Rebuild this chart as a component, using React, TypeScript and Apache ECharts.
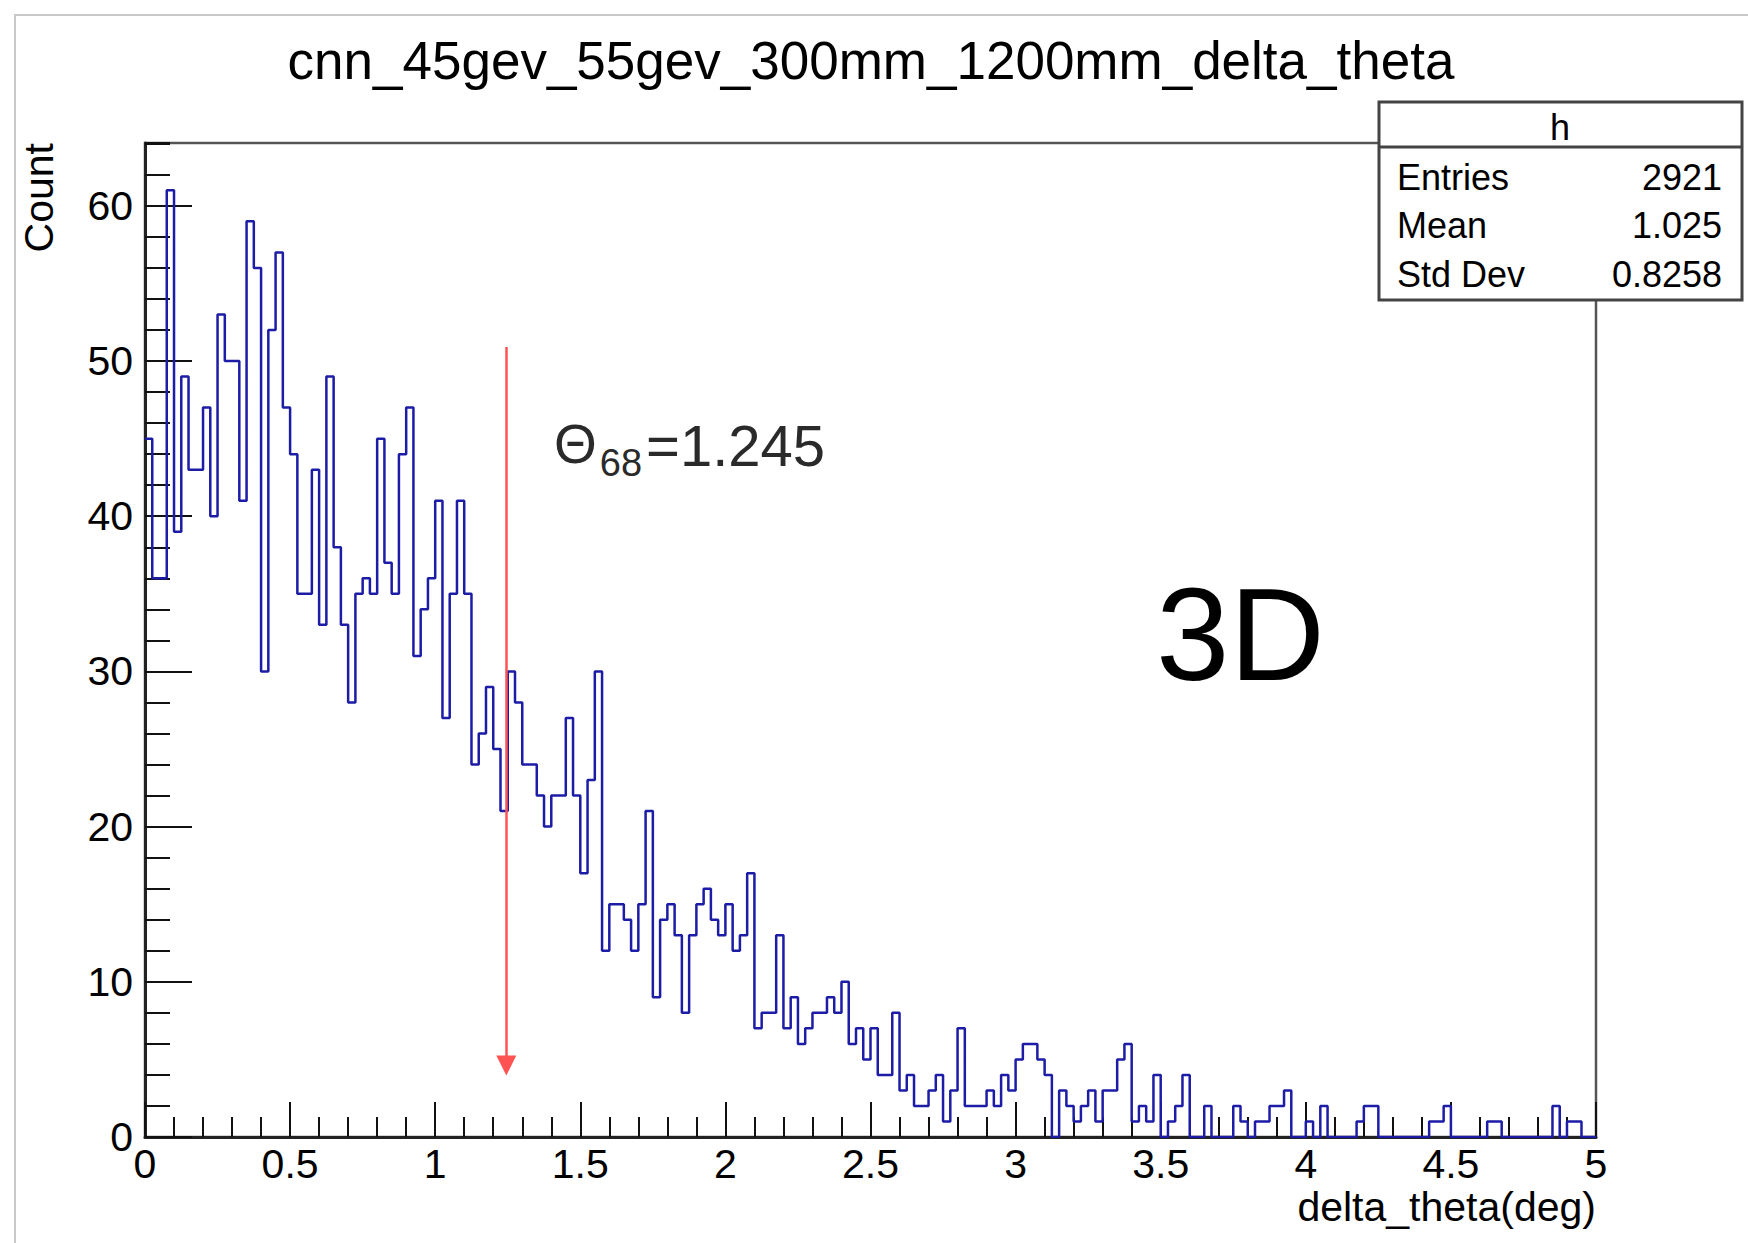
import React, { useEffect, useRef } from "react";
import * as echarts from "echarts";

// Histogram binning: 200 bins of 0.025 deg between 0 and 5 deg
const BIN_LOW = 0;
const BIN_HIGH = 5;
const BIN_WIDTH = 0.025;

// Counts per bin, grouped by 1-degree range
const counts0to1 = [
  45, 36, 36, 61, 39, 49, 43, 43, 47, 40,
  53, 50, 50, 41, 59, 56, 30, 52, 57, 47,
  44, 35, 35, 43, 33, 49, 38, 33, 28, 35,
  36, 35, 45, 37, 35, 44, 47, 31, 34, 36,
];
const counts1to2 = [
  41, 27, 35, 41, 35, 24, 26, 29, 25, 21,
  30, 28, 24, 24, 22, 20, 22, 22, 27, 22,
  17, 23, 30, 12, 15, 15, 14, 12, 15, 21,
  9, 14, 15, 13, 8, 13, 15, 16, 14, 13,
];
const counts2to3 = [
  15, 12, 13, 17, 7, 8, 8, 13, 7, 9,
  6, 7, 8, 8, 9, 8, 10, 6, 7, 5,
  7, 4, 4, 8, 3, 4, 2, 2, 3, 4,
  1, 3, 7, 2, 2, 2, 3, 2, 4, 3,
];
const counts3to4 = [
  5, 6, 6, 5, 4, 0, 3, 2, 1, 2,
  3, 1, 3, 3, 5, 6, 1, 2, 1, 4,
  0, 1, 2, 4, 0, 0, 2, 0, 0, 0,
  2, 1, 0, 1, 1, 2, 2, 3, 0, 0,
];
const counts4to5 = [
  1, 0, 2, 0, 0, 0, 0, 1, 2, 2,
  0, 0, 0, 0, 0, 0, 0, 1, 1, 2,
  0, 0, 0, 0, 0, 1, 1, 0, 0, 0,
  0, 0, 0, 0, 2, 0, 1, 1, 0, 0,
];

// Axis ranges
const X_MAJOR = 0.5;
const Y_MAX = 64.05;
const Y_MAJOR = 10;
const Y_MINOR = 2;

// Statistics box
const STATS_TITLE = "h";
const STATS_LABELS = ["Entries", "Mean", "Std Dev"];
const STATS_VALUES = ["2921", "1.025", "0.8258"];

// 68% containment marker
const THETA68 = 1.245;
const ARROW_FROM = 50.9;
const ARROW_TO = 4.6;

const TITLE = "cnn_45gev_55gev_300mm_1200mm_delta_theta";
const X_NAME = "delta_theta(deg)";
const Y_NAME = "Count";
const TAG = "3D";

const FONT = "'Liberation Sans', Arial, Helvetica, sans-serif";
const HIST_COLOR = "#1c1ca6";

export default function App() {
  const ref = useRef<HTMLDivElement>(null);

  useEffect(() => {
    if (!ref.current) return;
    const chart = echarts.init(ref.current, null, { renderer: "svg" });

    const counts = [
      ...counts0to1,
      ...counts1to2,
      ...counts2to3,
      ...counts3to4,
      ...counts4to5,
    ];
    // step outline: each point is a bin's lower edge, last point closes the final bin
    const stepData: number[][] = counts.map((c, i) => [BIN_LOW + i * BIN_WIDTH, c]);
    stepData.push([BIN_HIGH, counts[counts.length - 1]]);

    const statRows = STATS_LABELS.map((label, i) => ({
      type: "group",
      children: [
        {
          type: "text",
          style: {
            text: label,
            x: 1397,
            y: 177 + i * 48.5,
            align: "left",
            verticalAlign: "middle",
            fontSize: 36,
            fontFamily: FONT,
            fill: "#000",
          },
        },
        {
          type: "text",
          style: {
            text: STATS_VALUES[i],
            x: 1722,
            y: 177 + i * 48.5,
            align: "right",
            verticalAlign: "middle",
            fontSize: 36,
            fontFamily: FONT,
            fill: "#000",
          },
        },
      ],
    }));

    const option: any = {
      animation: false,
      backgroundColor: "#fff",
      textStyle: { fontFamily: FONT },
      grid: {
        left: 145,
        right: 152,
        top: 143,
        bottom: 106,
        show: true,
        borderColor: "#555",
        borderWidth: 2.5,
        outerBoundsMode: "none",
      },
      xAxis: {
        type: "value",
        min: BIN_LOW,
        max: BIN_HIGH,
        interval: X_MAJOR,
        axisLine: { show: true, onZero: false, lineStyle: { color: "#222", width: 3 } },
        axisTick: { show: true, inside: true, length: 35, lineStyle: { color: "#111", width: 2 } },
        minorTick: { show: true, splitNumber: 5, length: 20, lineStyle: { color: "#111", width: 2 } },
        axisLabel: { fontSize: 41, color: "#000", margin: 6, fontFamily: FONT },
        splitLine: { show: false },
      },
      yAxis: [
        {
          type: "value",
          min: 0,
          max: Y_MAX,
          interval: Y_MAJOR,
          axisLine: { show: true, onZero: false, lineStyle: { color: "#222", width: 3 } },
          axisTick: { show: true, inside: true, length: 47, lineStyle: { color: "#111", width: 2 } },
          axisLabel: {
            fontSize: 41,
            color: "#000",
            margin: 12,
            fontFamily: FONT,
            showMaxLabel: false,
            formatter: (v: number) => (Math.abs(v % Y_MAJOR) < 1e-9 ? String(v) : ""),
          },
          splitLine: { show: false },
        },
        {
          type: "value",
          position: "left",
          min: 0,
          max: Y_MAX,
          interval: Y_MINOR,
          axisLine: { show: false },
          axisTick: { show: true, inside: true, length: 25, lineStyle: { color: "#111", width: 2 } },
          axisLabel: { show: false },
          splitLine: { show: false },
        },
      ],
      series: [
        {
          type: "line",
          name: "h",
          data: stepData,
          step: "end",
          showSymbol: false,
          symbol: "none",
          lineStyle: { color: HIST_COLOR, width: 2.5 },
          z: 3,
          markLine: {
            silent: true,
            animation: false,
            symbol: ["none", "triangle"],
            symbolSize: 20,
            label: { show: false },
            lineStyle: { color: "#ff5252", width: 2.5, type: "solid" },
            data: [[{ coord: [THETA68, ARROW_FROM] }, { coord: [THETA68, ARROW_TO] }]],
          },
        },
      ],
      graphic: [
        {
          type: "polyline",
          shape: { points: [[15, 1243], [15, 15], [1748, 15]] },
          style: { stroke: "#c8c8c8", lineWidth: 2, fill: null },
          silent: true,
        },
        {
          type: "text",
          style: {
            text: TITLE,
            x: 871,
            y: 60,
            align: "center",
            verticalAlign: "middle",
            fontSize: 53,
            fontFamily: FONT,
            fill: "#000",
          },
        },
        {
          type: "text",
          x: 39,
          y: 143,
          rotation: Math.PI / 2,
          style: {
            text: Y_NAME,
            x: 0,
            y: 0,
            align: "right",
            verticalAlign: "middle",
            fontSize: 41,
            fontFamily: FONT,
            fill: "#000",
          },
        },
        {
          type: "text",
          style: {
            text: X_NAME,
            x: 1596,
            y: 1207,
            align: "right",
            verticalAlign: "middle",
            fontSize: 41,
            fontFamily: FONT,
            fill: "#000",
          },
        },
        {
          type: "text",
          style: {
            text: "{m|Θ}{s|68}{e|=1.245}",
            x: 554,
            y: 416,
            align: "left",
            verticalAlign: "top",
            fill: "#2a2a2a",
            fontFamily: FONT,
            rich: {
              m: { fontSize: 55, lineHeight: 60, verticalAlign: "top", fontFamily: FONT, fill: "#2a2a2a" },
              s: {
                fontSize: 38,
                lineHeight: 40,
                padding: [28, 0, 0, 3],
                verticalAlign: "top",
                fontFamily: FONT,
                fill: "#2a2a2a",
              },
              e: {
                fontSize: 58,
                lineHeight: 62,
                padding: [0, 0, 0, 4],
                verticalAlign: "top",
                fontFamily: FONT,
                fill: "#2a2a2a",
              },
            },
          },
        },
        {
          type: "text",
          style: {
            text: TAG,
            x: 1156,
            y: 634,
            align: "left",
            verticalAlign: "middle",
            fontSize: 132,
            fontFamily: FONT,
            fill: "#000",
          },
        },
        {
          type: "group",
          z: 100,
          children: [
            {
              type: "rect",
              shape: { x: 1379, y: 102, width: 363, height: 198 },
              style: { fill: "#fff", stroke: "#444", lineWidth: 3 },
            },
            {
              type: "line",
              shape: { x1: 1379, y1: 147, x2: 1742, y2: 147 },
              style: { stroke: "#444", lineWidth: 3 },
            },
            {
              type: "text",
              style: {
                text: STATS_TITLE,
                x: 1560,
                y: 127,
                align: "center",
                verticalAlign: "middle",
                fontSize: 36,
                fontFamily: FONT,
                fill: "#000",
              },
            },
            ...statRows,
          ],
        },
      ],
    };

    chart.setOption(option);
    return () => chart.dispose();
  }, []);

  return (
    <div
      ref={ref}
      style={{ position: "fixed", left: 0, top: 0, width: 1748, height: 1243, background: "#fff" }}
    />
  );
}
